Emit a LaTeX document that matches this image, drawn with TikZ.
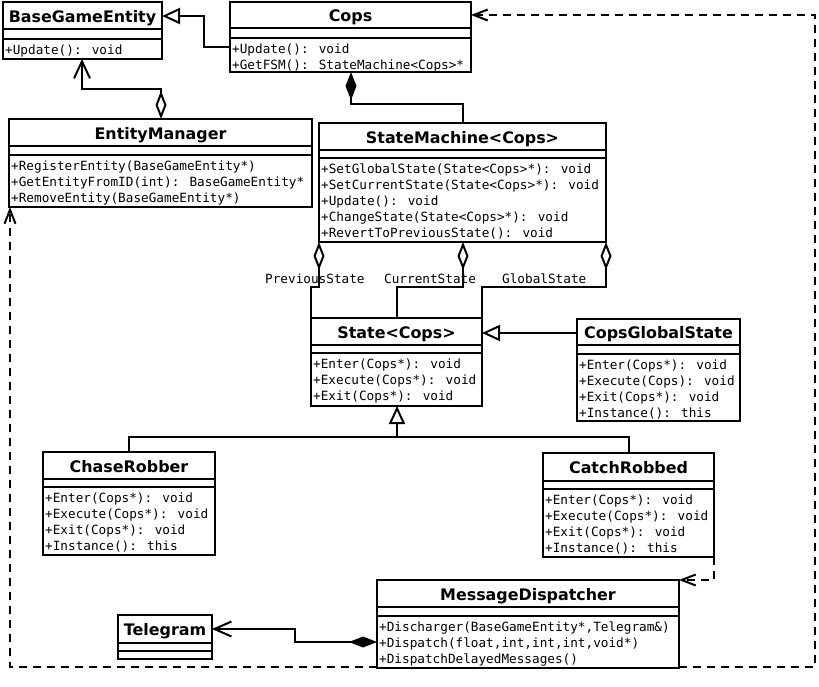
\documentclass[tikz,border=0pt]{standalone}
\usepackage{fontspec}
\setmainfont{DejaVu Sans}
\newfontfamily\umlmono{DejaVu Sans Mono}
\usetikzlibrary{arrows.meta,calc}

% stacked member lines, first baseline is the box baseline
\newcommand\mlines[1]{\vtop{\baselineskip=16pt\lineskiplimit=-100pt\lineskip=0pt\halign{##\hfil\cr#1\crcr}}}

\tikzset{
  umlline/.style={line width=2pt},
  classframe/.style={draw, line width=2pt, fill=white, rectangle, inner sep=0pt, outer sep=0pt},
  titletext/.style={anchor=base, inner sep=0pt, font=\fontsize{15.9}{19}\selectfont\bfseries},
  methodtext/.style={anchor=base west, inner sep=0pt, font=\umlmono\fontsize{12.7}{16}\selectfont},
  rolelabel/.style={anchor=base west, inner sep=0pt, font=\umlmono\fontsize{12.7}{16}\selectfont},
  inherits/.style={umlline, -{Triangle[open, length=18pt, width=16pt]}},
  inhline/.style={umlline},
  holdsnav/.style={umlline, {Diamond[open, length=28pt, width=11pt]}-{Straight Barb[length=17pt, width=16pt]}},
  holds/.style={umlline, {Diamond[open, length=28pt, width=11pt]}-},
  owns/.style={umlline, {Diamond[length=28pt, width=11pt]}-},
  ownsnav/.style={umlline, {Diamond[length=28pt, width=11pt]}-{Straight Barb[length=17pt, width=15pt]}},
  uses/.style={umlline, dash pattern=on 8pt off 6pt, -{Straight Barb[length=14pt, width=11pt]}},
}

% name, left, top, right, title rule, attribute rule, bottom, title, members
\newcommand\umlclass[9]{%
  \node[classframe, minimum width={(#4-#2)*1pt}, minimum height={(#7-#3)*1pt}, anchor=north west] (#1) at (#2,#3) {};
  \draw[umlline] (#2,#5) -- (#4,#5) (#2,#6) -- (#4,#6);
  \node[titletext] (#1-title) at ({(#2+#4)/2},{(#3+#5)/2+6.5}) {#8};
  \node[methodtext] (#1-members) at ({#2+2},{#6+15}) {\mlines{#9}};
}

\begin{document}
\begin{tikzpicture}[x=1pt,y=-1pt]
\fill[white] (0,0) rectangle (819,686);
\useasboundingbox (0,0) rectangle (819,686);

% classes
\umlclass{bge}{3}{2}{162}{29}{39}{59}{BaseGameEntity}{+Update(): void}
\umlclass{cops}{230}{2}{471}{28}{38}{72}{Cops}{+Update(): void\cr
+GetFSM(): StateMachine<Cops>*}
\umlclass{em}{9}{119}{312}{146}{155}{207}{EntityManager}{+RegisterEntity(BaseGameEntity*)\cr
+GetEntityFromID(int): BaseGameEntity*\cr
+RemoveEntity(BaseGameEntity*)}
\umlclass{sm}{319}{123}{606}{150}{158}{242}{StateMachine<Cops>}{+SetGlobalState(State<Cops>*): void\cr
+SetCurrentState(State<Cops>*): void\cr
+Update(): void\cr
+ChangeState(State<Cops>*): void\cr
+RevertToPreviousState(): void}
\umlclass{st}{311}{318}{482}{345}{353}{406}{State<Cops>}{+Enter(Cops*): void\cr
+Execute(Cops*): void\cr
+Exit(Cops*): void}
\umlclass{cgs}{577}{319}{740}{345}{354}{421}{CopsGlobalState}{+Enter(Cops*): void\cr
+Execute(Cops): void\cr
+Exit(Cops*): void\cr
+Instance(): this}
\umlclass{chase}{43}{452}{215}{479}{487}{555}{ChaseRobber}{+Enter(Cops*): void\cr
+Execute(Cops*): void\cr
+Exit(Cops*): void\cr
+Instance(): this}
\umlclass{catch}{543}{453}{714}{481}{489}{557}{CatchRobbed}{+Enter(Cops*): void\cr
+Execute(Cops*): void\cr
+Exit(Cops*): void\cr
+Instance(): this}
\umlclass{md}{377}{580}{679}{607}{616}{668}{MessageDispatcher}{+Discharger(BaseGameEntity*,Telegram\&)\cr
+Dispatch(float,int,int,int,void*)\cr
+DispatchDelayedMessages()}
\umlclass{tel}{118}{615}{212}{643}{651}{659}{Telegram}{}

% generalizations
\draw[inherits] ($(cops.north west)+(0,45)$) -- ++(-26,0) |- ($(bge.north east)+(0,14)$);
\draw[inherits] ($(cgs.north west)+(0,14)$) -- ($(st.north east)+(0,15)$);
\coordinate (fork) at ($(st.south west)+(86,31)$);
\draw[inhline] ($(chase.north west)+(86,0)$) |- (fork);
\draw[inhline] ($(catch.north west)+(86,0)$) |- (fork);
\draw[inherits] (fork) -- ($(st.south west)+(86,0)$);

% aggregations and compositions
\draw[holdsnav] ($(em.north west)+(152,0)$) -- ++(0,-30) -| ($(bge.south west)+(79,0)$);
\draw[owns] ($(cops.south west)+(121,0)$) -- ++(0,32) -| ($(sm.north west)+(144,0)$);
\draw[holds] (sm.south west) -- ++(0,45) -| (st.north west);
\draw[holds] ($(sm.south west)+(144,0)$) -- ++(0,45) -| ($(st.north west)+(86,0)$);
\draw[holds] (sm.south east) -- ++(0,45) -| (st.north east);
\draw[ownsnav] ($(md.north west)+(0,62)$) -- ++(-82,0) |- ($(tel.north east)+(0,14)$);

% role names
\node[rolelabel] (prevlbl) at (265,283.5) {PreviousState};
\node[rolelabel] (curlbl) at (384,283.5) {CurrentState};
\node[rolelabel] (globlbl) at (502,283.5) {GlobalState};

% dependencies
\draw[uses] (catch.south east) |- (md.north east);
\draw[uses] ($(md.south west)+(0,-1)$) -| ($(em.south west)+(1,0)$);
\draw[uses] ($(md.south east)+(0,-1)$) -- ++(136,0) |- ($(cops.north east)+(0,13)$);
\end{tikzpicture}
\end{document}
